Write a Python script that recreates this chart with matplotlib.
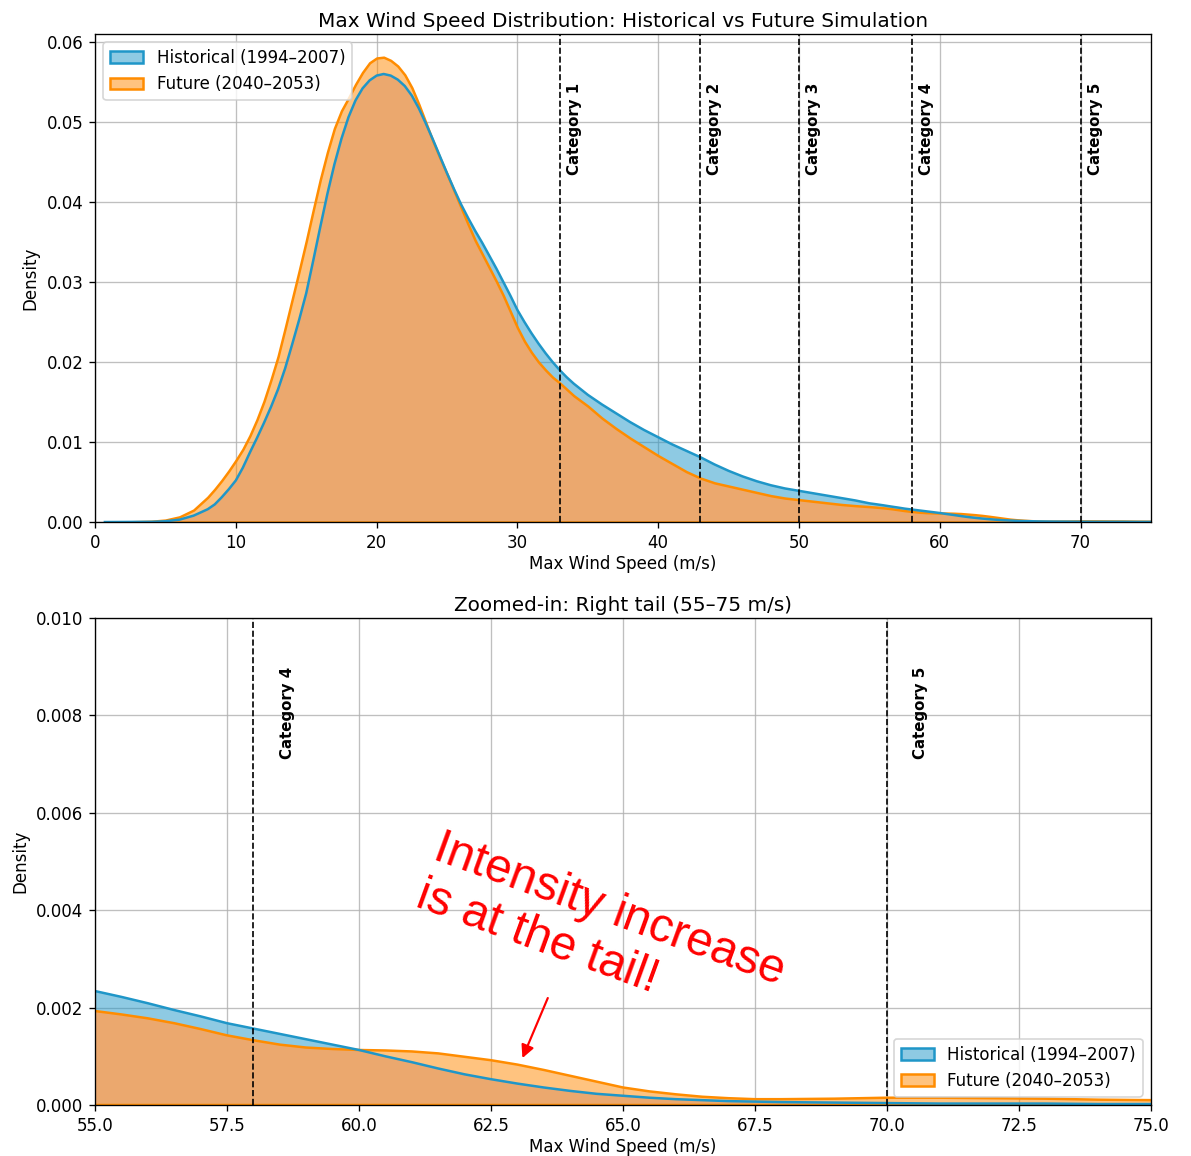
import numpy as np
import matplotlib
matplotlib.use('Agg')
import matplotlib.pyplot as plt
from matplotlib.colors import to_rgba
from matplotlib.patches import Patch

# wind speed grid (m/s) and KDE densities
wind = [0.7, 2, 4, 5, 6, 7,
        8, 8.5, 9, 9.5, 10, 10.5, 11, 11.5, 12, 12.5, 13, 13.5, 14, 14.5, 15, 15.5,
        16, 16.5, 17, 17.5, 18, 18.5, 19, 19.5, 20, 20.5, 21, 21.5, 22, 22.5, 23, 23.5,
        24, 24.5, 25, 25.5, 26, 26.5, 27, 27.5, 28, 28.5, 29, 29.5, 30, 30.5, 31, 31.5,
        32, 32.5, 33, 33.5, 34,
        35, 36, 37, 38, 39, 40, 41, 42, 43, 44, 45, 46, 47, 48, 49, 50, 51, 52, 53, 54,
        55, 55.5, 56, 56.5, 57, 57.5, 58, 58.5, 59, 59.5, 60, 60.5, 61, 61.5, 62, 62.5,
        63, 63.5, 64, 64.5, 65, 65.5, 66, 66.5, 67, 67.5, 68, 69, 70, 71, 72, 73, 74, 75, 76]
hist_density = [0, 0.00001, 0.00003, 0.0001, 0.0003, 0.0008,
                0.0016, 0.0022, 0.0031, 0.0041, 0.0052, 0.0068, 0.0087, 0.0105, 0.0124, 0.0144,
                0.0166, 0.0192, 0.0222, 0.0253, 0.0286, 0.0327,
                0.0369, 0.0410, 0.0447, 0.0479, 0.0506, 0.0527, 0.0542, 0.0552, 0.0558, 0.0560,
                0.0558, 0.0553, 0.0545, 0.0533, 0.0517, 0.0498,
                0.0478, 0.0457, 0.0436, 0.0416, 0.0397, 0.0380, 0.0364, 0.0349, 0.0333, 0.0317,
                0.0300, 0.0283, 0.0265, 0.0250, 0.0236, 0.0223,
                0.0211, 0.0200, 0.0190, 0.0181, 0.0173,
                0.0159, 0.0147, 0.0136, 0.0125, 0.0115, 0.0106, 0.0097, 0.0089, 0.0081, 0.0072,
                0.0064, 0.0057, 0.0051, 0.0046, 0.0042, 0.0039, 0.0036, 0.0033, 0.0030, 0.0027,
                0.00234, 0.00222, 0.00209, 0.00195, 0.00182, 0.00168, 0.00157, 0.00146, 0.00135, 0.00124,
                0.00113, 0.00100, 0.00088, 0.00075, 0.00063, 0.00053,
                0.00044, 0.00036, 0.00029, 0.00023, 0.00019, 0.00015, 0.00012, 0.00010, 0.00008, 0.00007,
                0.00006, 0.00005, 0.00004, 0.00003, 0.00003, 0.00003, 0.00002, 0.00002, 0.00002]
fut_density = [0, 0.00001, 0.0001, 0.00025, 0.00065, 0.0015,
               0.0031, 0.0041, 0.0052, 0.0064, 0.0077, 0.0091, 0.0108, 0.0128, 0.0151, 0.0178,
               0.0207, 0.0242, 0.0278, 0.0314, 0.0351, 0.0390,
               0.0428, 0.0462, 0.0492, 0.0514, 0.0530, 0.0547, 0.0562, 0.0574, 0.0580, 0.0581,
               0.0577, 0.0570, 0.0559, 0.0543, 0.0522, 0.0499,
               0.0476, 0.0455, 0.0435, 0.0414, 0.0393, 0.0372, 0.0352, 0.0335, 0.0318, 0.0301,
               0.0283, 0.0263, 0.0243, 0.0226, 0.0212, 0.0200,
               0.0190, 0.0181, 0.0174, 0.0166, 0.0158,
               0.0145, 0.0130, 0.0117, 0.0105, 0.0094, 0.0083, 0.0073, 0.0063, 0.0055, 0.0049,
               0.0045, 0.0041, 0.0037, 0.0033, 0.0030, 0.0028, 0.0026, 0.0024, 0.0022, 0.00205,
               0.00193, 0.00186, 0.00178, 0.00168, 0.00156, 0.00143, 0.00133, 0.00124, 0.00118, 0.00115,
               0.00113, 0.00112, 0.00110, 0.00106, 0.00099, 0.00092,
               0.00083, 0.00072, 0.00060, 0.00048, 0.00036, 0.00028, 0.00022, 0.00017, 0.00014, 0.00012,
               0.00012, 0.00013, 0.00015, 0.00015, 0.00014, 0.00013, 0.00011, 0.00010, 0.00010]

cat_speeds = [33, 43, 50, 58, 70]
cat_labels = ['Category 1', 'Category 2', 'Category 3', 'Category 4', 'Category 5']

hist_label = 'Historical (1994\u20132007)'
fut_label = 'Future (2040\u20132053)'
hist_color = '#1f96c8'
fut_color = '#ff8c00'
fut_fill = to_rgba('#ff8900', 0.5)
hist_fill = to_rgba(hist_color, 0.5)
under_fill = '#d7c9de'   # hist fill tone under the future layer

h = np.array(hist_density)
f = np.array(fut_density)

fig = plt.figure(figsize=(1191 / 120, 1156 / 120), dpi=120)
ax1 = fig.add_axes([0.0798, 0.5484, 0.8866, 0.4222])
ax2 = fig.add_axes([0.0798, 0.0441, 0.8866, 0.4213])


def draw(ax):
    ax.grid(True, color='#b0b0b0', lw=0.8, alpha=0.8)
    ax.set_axisbelow(True)
    ax.fill_between(wind, f, h, where=h > f, interpolate=True, facecolor=hist_fill, lw=0)
    ax.fill_between(wind, np.minimum(h, f), facecolor=under_fill, lw=0)
    ax.plot(wind, h, color=hist_color, lw=1.5)
    ax.fill_between(wind, f, facecolor=fut_fill, edgecolor=fut_color, lw=1.5)
    ax.set_xlabel('Max Wind Speed (m/s)', labelpad=2)
    ax.set_ylabel('Density')


def categories(ax, lo, hi, ytop):
    for s, lab in zip(cat_speeds, cat_labels):
        if lo <= s <= hi:
            ax.axvline(s, color='black', ls='--', lw=1.0)
            ax.text(s + 0.5, ytop * 0.9, lab, rotation=90, va='top', ha='left',
                    fontsize=9, fontweight='bold')


handles = [Patch(facecolor=hist_fill, edgecolor=hist_color, lw=1.5, label=hist_label),
           Patch(facecolor=fut_fill, edgecolor=fut_color, lw=1.5, label=fut_label)]

draw(ax1)
ax1.set_xlim(0, 75)
ax1.set_ylim(0, 0.061)
categories(ax1, 0, 75, 0.061)
ax1.set_title('Max Wind Speed Distribution: Historical vs Future Simulation', pad=4)
ax1.legend(handles=handles, loc='upper left')

draw(ax2)
ax2.set_xlim(55, 75)
ax2.set_ylim(0, 0.010)
ax2.set_xticks(np.arange(55, 75.1, 2.5))
ax2.set_yticks(np.arange(0, 0.0101, 0.002))
categories(ax2, 55, 75, 0.010)
ax2.set_title('Zoomed-in: Right tail (55\u201375 m/s)', pad=4)
ax2.legend(handles=handles, loc='lower right')

ax2.text(61.6, 0.00574, 'Intensity increase\nis at the tail!', color='red', fontsize=28.5,
         family=['Liberation Sans', 'DejaVu Sans'], rotation=-20, rotation_mode='anchor',
         ha='left', va='top', linespacing=1.15)
ax2.annotate('', xy=(63.07, 0.0009), xytext=(63.6, 0.00226),
             arrowprops=dict(arrowstyle='-|>', color='red', lw=1.3, mutation_scale=16))

fig.savefig('out.png', dpi=120)
